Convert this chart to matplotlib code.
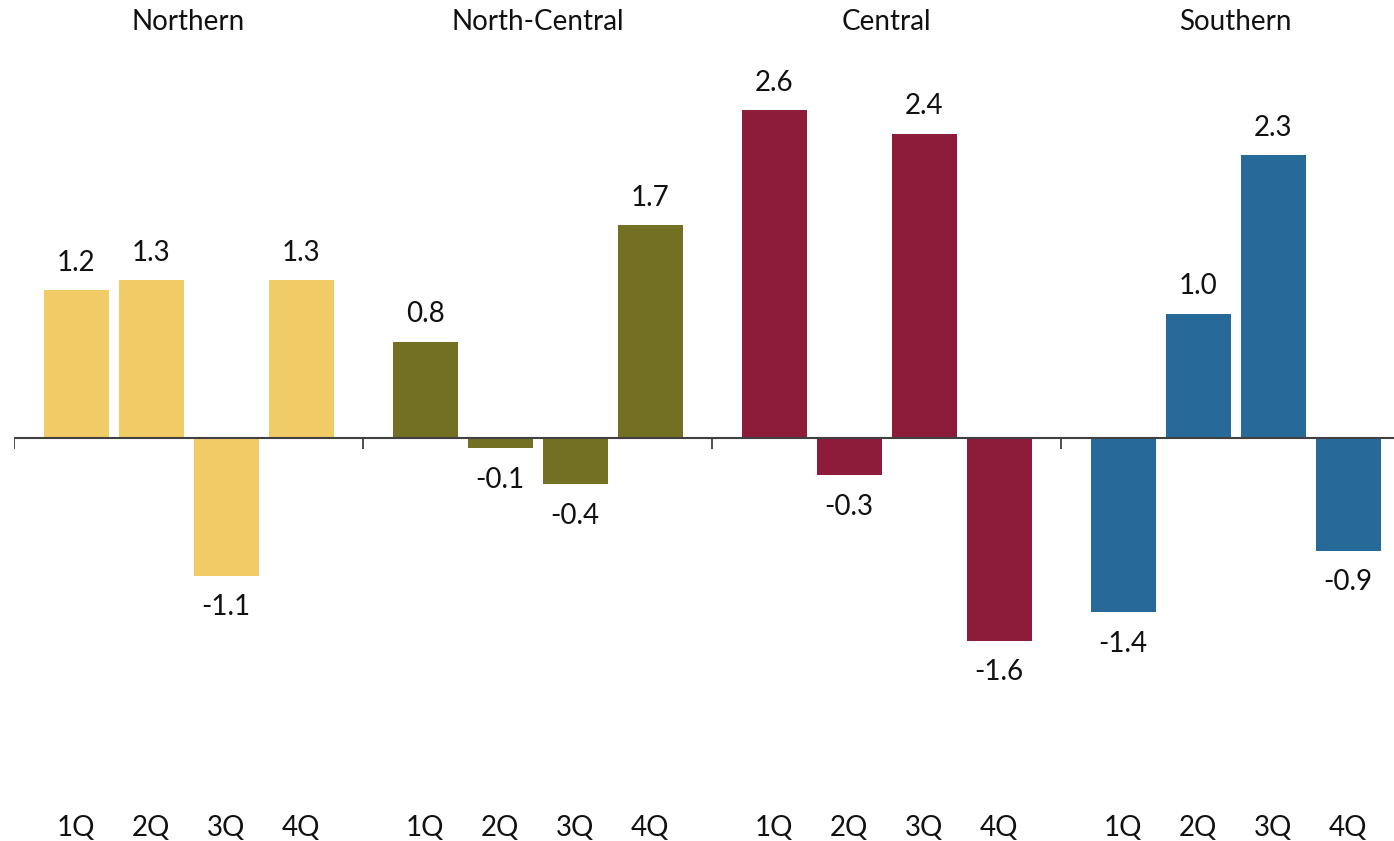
import matplotlib.pyplot as plt

regions = ["Northern", "North-Central", "Central", "Southern"]
quarters = ["1Q", "2Q", "3Q", "4Q"]
northern = [1.18, 1.26, -1.10, 1.26]
north_central = [0.77, -0.08, -0.37, 1.70]
central = [2.62, -0.30, 2.43, -1.62]
southern = [-1.39, 0.99, 2.26, -0.90]
colors = ["#F1CB65", "#737024", "#8D1C3B", "#276A99"]

series = [northern, north_central, central, southern]

plt.rcParams["font.family"] = ["Lato", "DejaVu Sans"]

fig = plt.figure(figsize=(13.94, 8.41), dpi=100)
ax = fig.add_axes([14 / 1394, 0, 1 - 14 / 1394, 1])

group_w = 349 / 75
offset = 62 / 75
bar_w = 65 / 75
fs = 20

for g, (name, vals) in enumerate(zip(regions, series)):
    xs = [g * group_w + offset + i for i in range(4)]
    ax.bar(xs, vals, width=bar_w, color=colors[g], zorder=2)
    for i, (x, v) in enumerate(zip(xs, vals)):
        dy = 20 if v >= 0 else -23
        ax.annotate(f"{v:.1f}", (x, v), xytext=(0, dy), textcoords="offset points",
                    ha="center", va="center", fontsize=fs, color="#111111")
        ax.text(x, 13 / 841, quarters[i], transform=ax.get_xaxis_transform(),
                ha="center", va="center", fontsize=fs, color="#111111")
    ax.text(g * group_w + group_w / 2, 1 - 22 / 841, name,
            transform=ax.get_xaxis_transform(), ha="center", va="center",
            fontsize=fs, color="#111111")
    # group separator ticks
    ax.plot([g * group_w, g * group_w], [0, -0.09], color="#404040", lw=1.3,
            zorder=3, solid_capstyle="butt")

ax.axhline(0, color="#404040", lw=1.5, zorder=3)
ax.set_xlim(0, 1380 / 75)
ax.set_ylim(-403 / 125, 438 / 125)
ax.axis("off")

fig.savefig("out.png", dpi=100)
